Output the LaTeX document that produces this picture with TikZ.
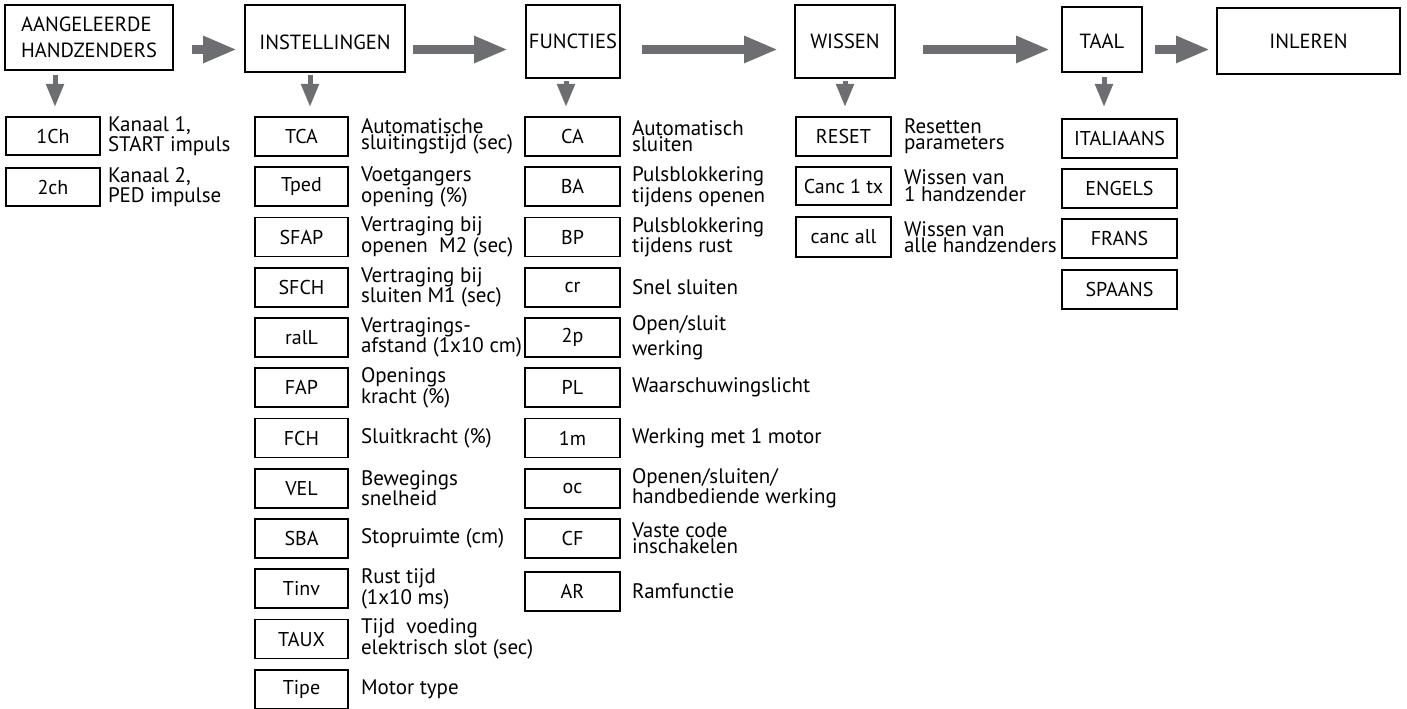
\documentclass[tikz,border=0pt]{standalone}
\usepackage{fontspec}
\usetikzlibrary{arrows.meta,calc}
\newfontfamily\myf{PT Sans}
\newcommand\subf{\myf\fontsize{20bp}{16bp}\selectfont}
\newcommand\descf{\myf\fontsize{21bp}{16bp}\selectfont}
\newcommand\topf{\myf\fontsize{20.5bp}{26bp}\selectfont}
\definecolor{arrowgray}{HTML}{6D6E71}
\tikzset{
  box/.style={draw, line width=1.6bp, inner sep=0pt, outer sep=0pt, font=\subf, align=center},
  topbox/.style={box, font=\topf},
  desc/.style={anchor=west, inner sep=0pt, outer sep=0pt, align=left, font=\descf},
  harrow/.style={draw=arrowgray, line width=9bp, -{Triangle[length=34bp,width=25bp]}},
  varrow/.style={draw=arrowgray, line width=5bp, -{Triangle[length=23bp,width=17bp]}},
}
\begin{document}
\begin{tikzpicture}[x=1bp,y=-1bp]
\useasboundingbox (0,0) rectangle (1407,708);
% top row
\node[topbox, minimum width=168bp, minimum height=65bp, align=left] (ah) at (89,37.5) {AANGELEERDE\\HANDZENDERS};
\node[topbox, minimum width=160bp, minimum height=67bp, text height=22bp, text depth=0pt] (ins) at (325,38.5) {INSTELLINGEN};
\node[topbox, minimum width=94bp, minimum height=73bp] (fun) at (573,41.5) {FUNCTIES};
\node[topbox, minimum width=100bp, minimum height=73bp] (wis) at (845,41.5) {WISSEN};
\node[topbox, minimum width=80bp, minimum height=65bp, text height=18bp, text depth=0pt] (taal) at (1102,39.5) {TAAL};
\node[topbox, minimum width=183bp, minimum height=66bp] (inl) at (1308.5,41) {INLEREN};
% column 1
\node[box, minimum width=94bp, minimum height=38bp] (c1a) at (53,136) {1Ch};
\node[box, minimum width=94bp, minimum height=38bp] (c1b) at (53,187) {2ch};
\node[desc, font=\myf\fontsize{21bp}{20bp}\selectfont] (d1a) at ($(c1a.east)+(8,0)$) {Kanaal 1,\\START impuls};
\node[desc, font=\myf\fontsize{21bp}{20bp}\selectfont] (d1b) at ($(c1b.east)+(8,0)$) {Kanaal 2,\\PED impulse};
% column 2
\node[box, minimum width=93bp, minimum height=39bp] (c2a) at (301.5,136.5) {TCA};
\node[box, minimum width=93bp, minimum height=39bp] (c2b) at (301.5,186.75) {Tped};
\node[box, minimum width=93bp, minimum height=39bp] (c2c) at (301.5,237) {SFAP};
\node[box, minimum width=93bp, minimum height=39bp] (c2d) at (301.5,287.25) {SFCH};
\node[box, minimum width=93bp, minimum height=39bp] (c2e) at (301.5,337.5) {ralL};
\node[box, minimum width=93bp, minimum height=39bp] (c2f) at (301.5,387.75) {FAP};
\node[box, minimum width=93bp, minimum height=39bp] (c2g) at (301.5,438) {FCH};
\node[box, minimum width=93bp, minimum height=39bp] (c2h) at (301.5,488.25) {VEL};
\node[box, minimum width=93bp, minimum height=39bp] (c2i) at (301.5,538.5) {SBA};
\node[box, minimum width=93bp, minimum height=39bp] (c2j) at (301.5,588.75) {Tinv};
\node[box, minimum width=93bp, minimum height=39bp] (c2k) at (301.5,639) {TAUX};
\node[box, minimum width=93bp, minimum height=39bp] (c2l) at (301.5,689.25) {Tipe};
\node[desc] (d2a) at ($(c2a.east)+(13,0)$) {Automatische\\sluitingstijd (sec)};
\node[desc] (d2b) at ($(c2b.east)+(13,0)$) {Voetgangers\\opening (\%)};
\node[desc] (d2c) at ($(c2c.east)+(13,0)$) {Vertraging bij\\openen\ \ M2 (sec)};
\node[desc] (d2d) at ($(c2d.east)+(13,0)$) {Vertraging bij\\sluiten M1 (sec)};
\node[desc] (d2e) at ($(c2e.east)+(13,0)$) {Vertragings-\\afstand (1x10 cm)};
\node[desc] (d2f) at ($(c2f.east)+(13,0)$) {Openings\\kracht (\%)};
\node[desc] (d2g) at ($(c2g.east)+(13,0)$) {Sluitkracht (\%)};
\node[desc] (d2h) at ($(c2h.east)+(13,0)$) {Bewegings\\snelheid};
\node[desc] (d2i) at ($(c2i.east)+(13,0)$) {Stopruimte (cm)};
\node[desc] (d2j) at ($(c2j.east)+(13,0)$) {Rust tijd\\(1x10 ms)};
\node[desc] (d2k) at ($(c2k.east)+(13,0)$) {Tijd\ \ voeding\\elektrisch slot (sec)};
\node[desc] (d2l) at ($(c2l.east)+(13,0)$) {Motor type};
% column 3
\node[box, minimum width=95bp, minimum height=39bp] (c3a) at (572.5,136.5) {CA};
\node[box, minimum width=95bp, minimum height=39bp] (c3b) at (572.5,186.75) {BA};
\node[box, minimum width=95bp, minimum height=39bp] (c3c) at (572.5,237) {BP};
\node[box, minimum width=95bp, minimum height=39bp] (c3d) at (572.5,287.25) {cr};
\node[box, minimum width=95bp, minimum height=39bp] (c3e) at (572.5,337.5) {2p};
\node[box, minimum width=95bp, minimum height=39bp] (c3f) at (572.5,387.75) {PL};
\node[box, minimum width=95bp, minimum height=39bp] (c3g) at (572.5,438) {1m};
\node[box, minimum width=95bp, minimum height=39bp] (c3h) at (572.5,488.25) {oc};
\node[box, minimum width=95bp, minimum height=39bp] (c3i) at (572.5,538.5) {CF};
\node[box, minimum width=95bp, minimum height=39bp] (c3j) at (572.5,591.5) {AR};
\node[desc] (d3a) at ($(c3a.east)+(12,0)$) {Automatisch\\sluiten};
\node[desc] (d3b) at ($(c3b.east)+(12,0)$) {Pulsblokkering\\tijdens openen};
\node[desc] (d3c) at ($(c3c.east)+(12,0)$) {Pulsblokkering\\tijdens rust};
\node[desc] (d3d) at ($(c3d.east)+(12,0)$) {Snel sluiten};
\node[desc, font=\myf\fontsize{21bp}{25bp}\selectfont] (d3e) at ($(c3e.east)+(12,0)$) {Open/sluit\\werking};
\node[desc] (d3f) at ($(c3f.east)+(12,0)$) {Waarschuwingslicht};
\node[desc] (d3g) at ($(c3g.east)+(12,0)$) {Werking met 1 motor};
\node[desc] (d3h) at ($(c3h.east)+(12,0)$) {Openen/sluiten/\\handbediende werking};
\node[desc] (d3i) at ($(c3i.east)+(12,0)$) {Vaste code\\inschakelen};
\node[desc] (d3j) at ($(c3j.east)+(12,0)$) {Ramfunctie};
% column 4
\node[box, minimum width=95bp, minimum height=39bp] (c4a) at (843.5,136.5) {RESET};
\node[box, minimum width=95bp, minimum height=38bp] (c4b) at (843.5,186) {Canc 1 tx};
\node[box, minimum width=95bp, minimum height=40bp] (c4c) at (843.5,237) {canc all};
\node[desc] (d4a) at ($(c4a.east)+(13,0)$) {Resetten\\parameters};
\node[desc, font=\myf\fontsize{21bp}{17bp}\selectfont] (d4b) at ($(c4b.east)+(13,0)$) {Wissen van\\1 handzender};
\node[desc] (d4c) at ($(c4c.east)+(13,0)$) {Wissen van\\alle handzenders};
% column 5
\node[box, minimum width=115bp, minimum height=39bp] (c5a) at (1119.5,138.5) {ITALIAANS};
\node[box, minimum width=115bp, minimum height=39bp] (c5b) at (1119.5,188.5) {ENGELS};
\node[box, minimum width=115bp, minimum height=39bp] (c5c) at (1119.5,238.5) {FRANS};
\node[box, minimum width=115bp, minimum height=39bp] (c5d) at (1119.5,289.5) {SPAANS};
% horizontal arrows
\draw[harrow] ($(ah.east|-0,49.5)+(19,0)$) -- ($(ins.west|-0,49.5)+(-8,0)$);
\draw[harrow] ($(ins.east|-0,49.5)+(8,0)$) -- ($(fun.west|-0,49.5)+(-18,0)$);
\draw[harrow] ($(fun.east|-0,49.5)+(22,0)$) -- ($(wis.west|-0,49.5)+(-17,0)$);
\draw[harrow] ($(wis.east|-0,49.5)+(28,0)$) -- ($(taal.west|-0,49.5)+(-12,0)$);
\draw[harrow] ($(taal.east|-0,49.5)+(13,0)$) -- ($(inl.west|-0,49.5)+(-7,0)$);
% vertical arrows
\draw[varrow] ($(ah.south-|55,0)+(0,5)$) -- ($(c1a.north-|55,0)+(0,-10)$);
\draw[varrow] ($(ins.south-|310,0)+(0,3)$) -- ($(c2a.north-|310,0)+(0,-10)$);
\draw[varrow] ($(fun.south-|566,0)+(0,3)$) -- ($(c3a.north-|566,0)+(0,-10)$);
\draw[varrow] ($(wis.south-|845,0)+(0,3)$) -- ($(c4a.north-|845,0)+(0,-10)$);
\draw[varrow] ($(taal.south-|1104,0)+(0,5)$) -- ($(c5a.north-|1104,0)+(0,-12)$);
\end{tikzpicture}
\end{document}
